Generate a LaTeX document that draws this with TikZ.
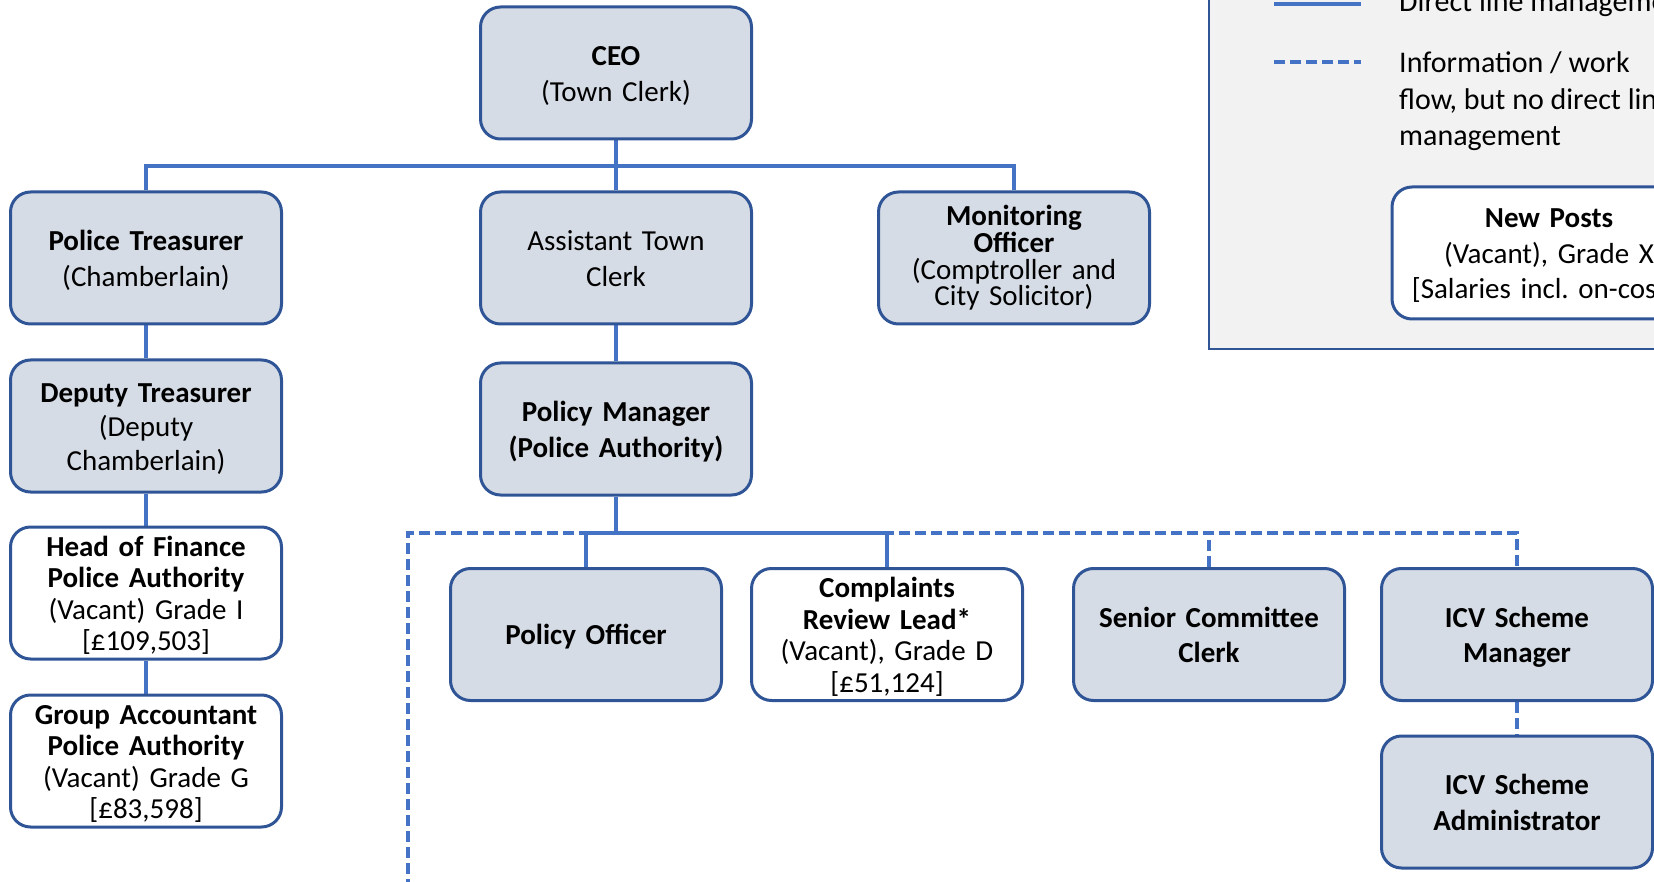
\documentclass[tikz,border=0pt]{standalone}
\usepackage{fontspec}
\setmainfont{Carlito}
\frenchspacing
\definecolor{boxfill}{HTML}{D6DCE5}
\definecolor{boxline}{HTML}{2F5597}
\definecolor{conn}{HTML}{4472C4}
\definecolor{legfill}{HTML}{F2F2F2}
\pgfdeclarelayer{bg}
\pgfsetlayers{bg,main}
\tikzset{
  post/.style={draw=boxline, line width=3pt, fill=boxfill, rounded corners=20pt,
    minimum width=271pt, minimum height=132pt, align=center, inner sep=0pt,
    text width=255pt, font=\fontsize{29}{35.4}\selectfont,
    text height=20pt, text depth=34.7pt},
  vacant/.style={post, fill=white},
  vc/.style 2 args={text height=#1pt, text depth=#2pt},
  solidconn/.style={draw=conn, line width=3.5pt},
  dashconn/.style={draw=conn, line width=3.5pt, dash pattern=on 11pt off 5pt},
  legtext/.style={anchor=base west, inner sep=0pt, font=\fontsize{30}{36.5}\selectfont},
}
\begin{document}
\begin{tikzpicture}[x=1pt,y=-1pt]
\useasboundingbox (0,0) rectangle (1654,882);
\clip (0,0) rectangle (1654,882);

% legend
\draw[draw=boxline, line width=2pt, fill=legfill] (1209,-10) rectangle (1700,349);
\coordinate (ls1) at (1274,4);
\coordinate (le1) at (1361,4);
\draw[solidconn] (ls1) -- (le1);
\node[legtext] (lt1) at (1399,12) {Direct line management};
\coordinate (ls2) at (1274,62);
\coordinate (le2) at (1361,62);
\draw[dashconn] (ls2) -- (le2);
\node[legtext] (lt2a) at (1399,73) {Information / work};
\node[legtext] (lt2b) at (1399,110) {flow, but no direct line};
\node[legtext] (lt2c) at (1399,146) {management};
\node[vacant, minimum width=314pt, text width=300pt, vc={20}{70.3}] (NP) at (1549,253)
  {\textbf{New Posts}\\(Vacant), Grade X\\{[}Salaries incl. on-costs{]}};

% boxes
\node[post] (CEO) at (616,73) {\textbf{CEO}\\(Town Clerk)};
\node[post] (PT) at (146,258) {\textbf{Police Treasurer}\\(Chamberlain)};
\node[post] (ATC) at (616,258) {Assistant Town\\Clerk};
\node[post, font=\fontsize{29}{26.7}\selectfont, vc={20}{84.6}] (MO) at (1014,258)
  {\textbf{Monitoring}\\\textbf{Officer}\\(Comptroller and\\City Solicitor)};
\node[post, font=\fontsize{29}{34.3}\selectfont, vc={20}{67.9}] (DT) at (146,426)
  {\textbf{Deputy Treasurer}\\(Deputy\\Chamberlain)};
\node[post] (PM) at (616,429) {\textbf{Policy Manager}\\\textbf{(Police Authority)}};
\node[vacant, font=\fontsize{29}{31.6}\selectfont, vc={20}{94}] (HF) at (146,593)
  {\textbf{Head of Finance}\\\textbf{Police Authority}\\(Vacant) Grade I\\{[}£109,503{]}};
\node[vacant, font=\fontsize{29}{31.6}\selectfont, vc={20}{94}] (GA) at (146,761)
  {\textbf{Group Accountant}\\\textbf{Police Authority}\\(Vacant) Grade G\\{[}£83,598{]}};
\node[post, vc={25}{4.3}] (PO) at (586,634.5) {\textbf{Policy Officer}};
\node[vacant, font=\fontsize{29}{31.6}\selectfont, vc={20}{94}] (CRL) at (887,634.5)
  {\textbf{Complaints}\\\textbf{Review Lead*}\\(Vacant), Grade D\\{[}£51,124{]}};
\node[post] (SCC) at (1209,634.5) {\textbf{Senior Committee}\\\textbf{Clerk}};
\node[post] (ICVM) at (1517,634.5) {\textbf{ICV Scheme}\\\textbf{Manager}};
\node[post] (ICVA) at (1517,802) {\textbf{ICV Scheme}\\\textbf{Administrator}};

% connectors
\coordinate (tbus) at (616,166);
\coordinate (bus) at (616,533);
\coordinate (dend) at (408,890);
\begin{pgfonlayer}{bg}
\draw[solidconn] (CEO.south) -- (ATC.north);
\draw[solidconn] (PT.north) |- (tbus) -| (MO.north);
\draw[solidconn] (PT.south) -- (DT.north);
\draw[solidconn] (DT.south) -- (HF.north);
\draw[solidconn] (HF.south) -- (GA.north);
\draw[solidconn] (ATC.south) -- (PM.north);
\draw[dashconn] (dend) |- (bus) -| (ICVM.north);
\draw[dashconn] (SCC.north) -- (SCC.north |- bus);
\draw[dashconn] (ICVM.south) -- (ICVA.north);
\draw[solidconn] (PM.south) -- (bus);
\draw[solidconn] (PO.north) |- (bus) -| (CRL.north);
\end{pgfonlayer}
\end{tikzpicture}
\end{document}
